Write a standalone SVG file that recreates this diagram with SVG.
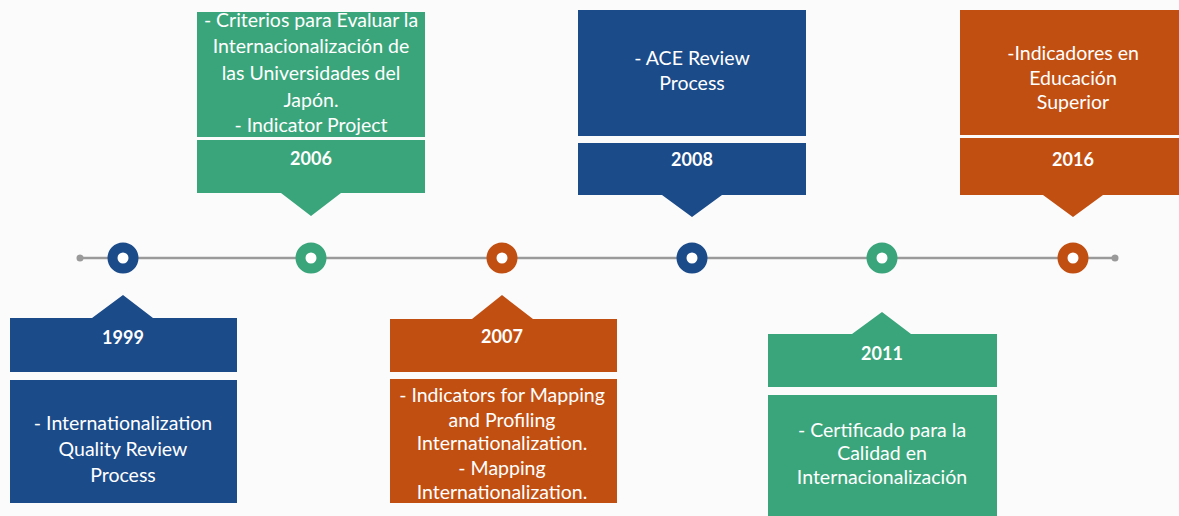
<svg xmlns="http://www.w3.org/2000/svg" width="1179" height="516" viewBox="0 0 1179 516">
<style>
.bg{fill:#fbfbfb}
.blue{fill:#1c4b8a}
.green{fill:#3aa57b}
.orange{fill:#c24f12}
.ringb{fill:#fff;stroke:#1c4b8a;stroke-width:10}
.ringg{fill:#fff;stroke:#3aa57b;stroke-width:10}
.ringo{fill:#fff;stroke:#c24f12;stroke-width:10}
.line{stroke:#9a9a9a;stroke-width:2.5;fill:none}
.end{fill:#9a9a9a}
.t{font-family:Lato,"Liberation Sans",sans-serif;font-size:19.5px;fill:#ffffff;text-anchor:middle}
.y{font-family:Lato,"Liberation Sans",sans-serif;font-size:18px;font-weight:bold;fill:#ffffff;text-anchor:middle}
</style>
<rect class="bg" x="0" y="0" width="1179" height="516"/>
<g id="connectors">
<line class="line" x1="80" y1="258" x2="1115" y2="258"/>
<circle class="end" cx="80" cy="258" r="3.5"/>
<circle class="end" cx="1115" cy="258" r="3.5"/>
</g>
<g id="n1999">
<circle class="ringb" cx="123" cy="258" r="10.5"/>
<path class="blue" d="M10 318 H92 L123 295 L153 318 H237 V372 H10 Z"/>
<text class="y" x="123" y="344">1999</text>
<rect class="blue" x="10" y="380" width="227" height="123"/>
<text class="t" x="123" y="430">- Internationalization</text>
<text class="t" x="123" y="456">Quality Review</text>
<text class="t" x="123" y="482">Process</text>
</g>
<g id="n2006">
<circle class="ringg" cx="311" cy="258" r="10.5"/>
<rect class="green" x="197" y="12" width="228" height="125"/>
<text class="t" x="311" y="27">- Criterios para Evaluar la</text>
<text class="t" x="311" y="53">Internacionalización de</text>
<text class="t" x="311" y="80">las Universidades del</text>
<text class="t" x="311" y="107">Japón.</text>
<text class="t" x="311" y="132">- Indicator Project</text>
<path class="green" d="M197 140 H425 V193 H341 L311 216 L281 193 H197 Z"/>
<text class="y" x="311" y="165">2006</text>
</g>
<g id="n2007">
<circle class="ringo" cx="502" cy="258" r="10.5"/>
<path class="orange" d="M390 319 H472 L502 295 L533 319 H617 V372 H390 Z"/>
<text class="y" x="502" y="343">2007</text>
<rect class="orange" x="390" y="379" width="227" height="124"/>
<text class="t" x="502" y="402">- Indicators for Mapping</text>
<text class="t" x="502" y="427">and Profiling</text>
<text class="t" x="502" y="450">Internationalization.</text>
<text class="t" x="502" y="475">- Mapping</text>
<text class="t" x="502" y="499">Internationalization.</text>
</g>
<g id="n2008">
<circle class="ringb" cx="692" cy="258" r="10.5"/>
<rect class="blue" x="578" y="10" width="228" height="126"/>
<text class="t" x="692" y="65">- ACE Review</text>
<text class="t" x="692" y="90">Process</text>
<path class="blue" d="M578 143 H806 V195 H722 L692 217 L662 195 H578 Z"/>
<text class="y" x="692" y="166">2008</text>
</g>
<g id="n2011">
<circle class="ringg" cx="882" cy="258" r="10.5"/>
<path class="green" d="M768 334 H852 L882 312 L911 334 H997 V387 H768 Z"/>
<text class="y" x="882" y="360">2011</text>
<rect class="green" x="768" y="395" width="229" height="121"/>
<text class="t" x="882" y="437">- Certificado para la</text>
<text class="t" x="882" y="460">Calidad en</text>
<text class="t" x="882" y="484">Internacionalización</text>
</g>
<g id="n2016">
<circle class="ringo" cx="1073" cy="258" r="10.5"/>
<rect class="orange" x="960" y="10" width="219" height="125"/>
<text class="t" x="1073" y="60">-Indicadores en</text>
<text class="t" x="1073" y="85">Educación</text>
<text class="t" x="1073" y="109">Superior</text>
<path class="orange" d="M960 138 H1179 V195 H1103 L1073 217 L1043 195 H960 Z"/>
<text class="y" x="1073" y="166">2016</text>
</g>
</svg>
